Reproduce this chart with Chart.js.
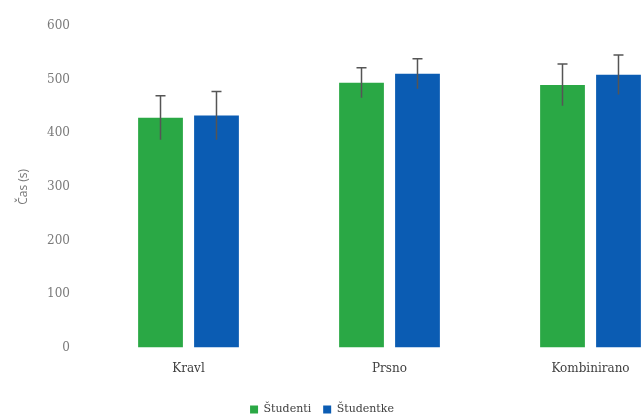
<!DOCTYPE html>
<html>
<head>
<meta charset="utf-8">
<script src="https://cdn.jsdelivr.net/npm/chart.js@4"></script>
<style>
  html, body { margin:0; padding:0; background:#fff; overflow:hidden; }
  #wrap { width:692px; height:420px; }
</style>
</head>
<body>
<div id="wrap"><canvas id="c" width="692" height="420"></canvas></div>
<script>
// ── Data ─────────────────────────────────────────────
const categories   = ['Kravl', 'Prsno', 'Kombinirano'];
const seriesNames  = ['Študenti', 'Študentke'];
const studenti     = [429, 494, 490];
const studentke    = [433, 511, 509];
const errStudenti  = [41, 28, 39];
const errStudentke = [45, 28, 37];
const yTicks       = [0, 100, 200, 300, 400, 500, 600];

const C = { green:'#2aa845', blue:'#0b5cb3', err:'#555555', tick:'#7a7a7a', label:'#404040' };
const errors = [errStudenti, errStudentke];

// error bars drawn from the dataset values through the y scale
const errorBars = {
  id:'errorBars',
  afterDatasetsDraw(chart) {
    const { ctx, scales:{ y } } = chart;
    ctx.save();
    ctx.strokeStyle = C.err;
    ctx.lineWidth = 1.5;
    chart.data.datasets.forEach((ds, di) => {
      chart.getDatasetMeta(di).data.forEach((bar, i) => {
        const v = ds.data[i], e = errors[di][i];
        const top = y.getPixelForValue(v + e), bot = y.getPixelForValue(v - e);
        ctx.beginPath();
        ctx.moveTo(bar.x, bot); ctx.lineTo(bar.x, top);
        ctx.moveTo(bar.x - 5, top); ctx.lineTo(bar.x + 5, top);
        ctx.stroke();
      });
    });
    ctx.restore();
  }
};

// legend sits centred on the visible 644px picture, a bit lower
const legendShift = {
  id:'legendShift',
  afterLayout(chart) {
    const lg = chart.legend;
    lg.left = 0; lg.right = 644; lg.width = 644;
    lg.top += 5; lg.bottom += 5;
  }
};

new Chart(document.getElementById('c'), {
  type:'bar',
  data:{
    labels:categories,
    datasets:[
      { label:seriesNames[0], data:studenti,  backgroundColor:C.green, barPercentage:0.8, categoryPercentage:0.557 },
      { label:seriesNames[1], data:studentke, backgroundColor:C.blue,  barPercentage:0.8, categoryPercentage:0.557 },
    ]
  },
  options:{
    responsive:false, animation:false,
    layout:{ padding:{ top:26, right:1, bottom:0, left:0 } },
    plugins:{
      legend:{ position:'bottom',
        labels:{ color:C.label, boxWidth:8, boxHeight:8, padding:12, font:{ family:'DejaVu Serif', size:11 } } },
      tooltip:{ enabled:false },
    },
    scales:{
      x:{ grid:{ display:false, drawTicks:false }, border:{ display:false },
          afterFit:s => { s.height -= 3; },
          ticks:{ color:C.label, padding:14, font:{ family:'DejaVu Serif', size:12 } } },
      y:{ min:0, max:600, grid:{ display:false, drawTicks:false }, border:{ display:false },
          afterBuildTicks:s => { s.ticks = yTicks.map(v => ({ value:v })); },
          afterFit:s => { s.width = 88; },
          ticks:{ color:C.tick, padding:18, font:{ family:'DejaVu Serif', size:12 } },
          title:{ display:true, text:'Čas (s)', color:C.tick, padding:{ top:16, bottom:0 },
                  font:{ family:'Open Sans', size:12 } } },
    },
  },
  plugins:[errorBars, legendShift],
});
</script>
</body>
</html>
